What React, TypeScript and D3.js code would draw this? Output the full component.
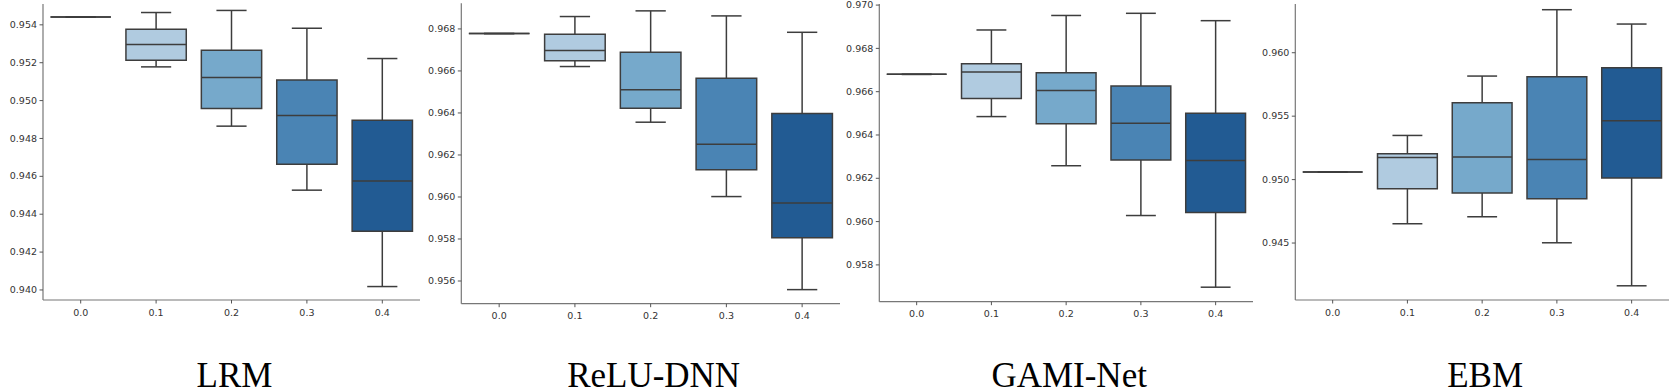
import React from 'react';
import * as d3 from 'd3';

// noise levels on the x axis
const categories = ['0.0', '0.1', '0.2', '0.3', '0.4'];

// box stats per level: [lower whisker, q1, median, q3, upper whisker]
const lrmStats = [
  [0.95441, 0.95441, 0.95441, 0.95441, 0.95441],
  [0.95178, 0.95213, 0.95296, 0.95377, 0.95465],
  [0.94865, 0.94958, 0.95122, 0.95266, 0.95476],
  [0.94527, 0.94664, 0.94921, 0.95109, 0.95382],
  [0.94018, 0.9431, 0.94576, 0.94896, 0.95222],
];
const reluStats = [
  [0.96778, 0.96778, 0.96778, 0.96778, 0.96778],
  [0.96621, 0.96649, 0.96697, 0.96775, 0.96859],
  [0.96356, 0.96422, 0.9651, 0.96689, 0.96886],
  [0.96002, 0.9613, 0.96251, 0.96565, 0.96862],
  [0.95559, 0.95806, 0.95971, 0.96398, 0.96784],
];
const gamiStats = [
  [0.9668, 0.9668, 0.9668, 0.9668, 0.9668],
  [0.96485, 0.96568, 0.96691, 0.96729, 0.96885],
  [0.96258, 0.96452, 0.96605, 0.96688, 0.96952],
  [0.96028, 0.96285, 0.96454, 0.96626, 0.96962],
  [0.95697, 0.96042, 0.96282, 0.965, 0.96928],
];
const ebmStats = [
  [0.95059, 0.95059, 0.95059, 0.95059, 0.95059],
  [0.94652, 0.94928, 0.95175, 0.95204, 0.95348],
  [0.94707, 0.94894, 0.95178, 0.95606, 0.95816],
  [0.94502, 0.94849, 0.95159, 0.95811, 0.96339],
  [0.94163, 0.95012, 0.95464, 0.95882, 0.96226],
];

const lrmTicks = [0.94, 0.942, 0.944, 0.946, 0.948, 0.95, 0.952, 0.954];
const reluTicks = [0.956, 0.958, 0.96, 0.962, 0.964, 0.966, 0.968];
const gamiTicks = [0.958, 0.96, 0.962, 0.964, 0.966, 0.968, 0.97];
const ebmTicks = [0.945, 0.95, 0.955, 0.96];

const lrmDomain = [0.93947, 0.9551];
const reluDomain = [0.95492, 0.96922];
const gamiDomain = [0.9563, 0.97005];
const ebmDomain = [0.94051, 0.96384];

const titles = ['LRM', 'ReLU-DNN', 'GAMI-Net', 'EBM'];

const palette = ['#c9dcec', '#b0cbe0', '#76a9cb', '#4a84b4', '#225b93'];
const lineColor = '#3d3d3d';

// layout of each subplot in page pixels
const panels = [
  { title: titles[0], stats: lrmStats, ticks: lrmTicks, domain: lrmDomain, left: 43, right: 420, top: 4, bottom: 300 },
  { title: titles[1], stats: reluStats, ticks: reluTicks, domain: reluDomain, left: 461.3, right: 840, top: 3.3, bottom: 303.7 },
  { title: titles[2], stats: gamiStats, ticks: gamiTicks, domain: gamiDomain, left: 879.3, right: 1253, top: 4, bottom: 301.7 },
  { title: titles[3], stats: ebmStats, ticks: ebmTicks, domain: ebmDomain, left: 1295.3, right: 1669, top: 4, bottom: 300 },
];

const fmt = d3.format('.3f');

const Panel = ({ p }: { p: typeof panels[number] }) => {
  const x = d3.scaleBand().domain(categories).range([p.left, p.right]);
  const y = d3.scaleLinear().domain(p.domain).range([p.bottom, p.top]);
  const bw = x.bandwidth() * 0.8;

  return (
    <g>
      {/* boxes */}
      {p.stats.map((s, i) => {
        const [lo, q1, med, q3, hi] = s;
        const cx = (x(categories[i]) as number) + x.bandwidth() / 2;
        const x0 = cx - bw / 2;
        const x1 = cx + bw / 2;
        return (
          <g key={i} stroke={lineColor} strokeWidth={1.5}>
            <line x1={cx} x2={cx} y1={y(q3)} y2={y(hi)} />
            <line x1={cx} x2={cx} y1={y(q1)} y2={y(lo)} />
            <line x1={cx - bw / 4} x2={cx + bw / 4} y1={y(hi)} y2={y(hi)} />
            <line x1={cx - bw / 4} x2={cx + bw / 4} y1={y(lo)} y2={y(lo)} />
            <path d={`M${x0},${y(q3)}H${x1}V${y(q1)}H${x0}Z`} fill={palette[i]} />
            <line x1={x0} x2={x1} y1={y(med)} y2={y(med)} />
          </g>
        );
      })}

      {/* spines */}
      <line x1={p.left} x2={p.left} y1={p.top} y2={p.bottom} stroke="#777" strokeWidth={1.2} />
      <line x1={p.left} x2={p.right} y1={p.bottom} y2={p.bottom} stroke="#777" strokeWidth={1.2} />

      {/* y ticks */}
      {p.ticks.map((t) => (
        <g key={t} transform={`translate(${p.left},${y(t)})`}>
          <line x1={-3.5} x2={0} stroke="#555" strokeWidth={1} />
          <text x={-6} dy="0.33em" textAnchor="end" fontSize={9.5} fill="#333" fontFamily="DejaVu Sans">
            {fmt(t)}
          </text>
        </g>
      ))}

      {/* x ticks */}
      {categories.map((c) => (
        <g key={c} transform={`translate(${(x(c) as number) + x.bandwidth() / 2},${p.bottom})`}>
          <line y1={0} y2={3.5} stroke="#555" strokeWidth={1} />
          <text y={15.5} textAnchor="middle" fontSize={9.5} fill="#333" fontFamily="DejaVu Sans">
            {c}
          </text>
        </g>
      ))}

      <text
        x={(p.left + p.right) / 2 + 3}
        y={387}
        textAnchor="middle"
        fontSize={35}
        fontFamily="Liberation Serif, Times New Roman, serif"
        fill="#000"
      >
        {p.title}
      </text>
    </g>
  );
};

export default function App() {
  return (
    <div style={{ position: 'absolute', left: 0, top: 0, background: '#fff' }}>
      <svg width={1675} height={391} style={{ display: 'block' }}>
        <rect width={1675} height={391} fill="#fff" />
        {panels.map((p) => (
          <Panel key={p.title} p={p} />
        ))}
      </svg>
    </div>
  );
}
